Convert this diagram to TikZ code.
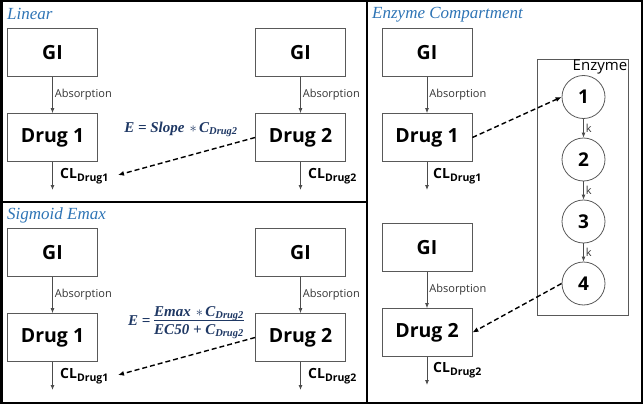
\documentclass[tikz,border=0pt]{standalone}
\usepackage{fontspec}
\setmainfont{Open Sans}
\newfontfamily\titlefont{Liberation Serif}
\newfontfamily\eqfont{Liberation Serif}
\usetikzlibrary{arrows.meta}
\definecolor{titleblue}{HTML}{2E74B5}
\definecolor{eqblue}{HTML}{1F3864}
\begin{document}
\begin{tikzpicture}[x=1pt,y=-1pt,
  box/.style={draw=black!65, line width=0.8pt, minimum width=90pt, minimum height=48pt, inner sep=0pt, font=\bfseries\fontsize{19.5}{21}\selectfont},
  circ/.style={circle, draw=black!65, line width=0.8pt, minimum size=43pt, inner sep=0pt, font=\bfseries\fontsize{19}{21}\selectfont},
  arr/.style={draw=black!70, line width=0.8pt, -{Latex[length=5pt,width=4pt]}},
  dasharr/.style={draw=black, line width=1.4pt, dashed, dash pattern=on 5pt off 3pt, -{Latex[length=6pt,width=5pt]}},
  lab/.style={font=\fontsize{11}{13}\selectfont, text=black!80, inner sep=2pt},
  klab/.style={font=\fontsize{11}{13}\selectfont, text=black!80, inner sep=2pt},
  cl/.style={font=\bfseries\fontsize{14}{16}\selectfont, anchor=west, inner sep=0pt},
  ttl/.style={font=\titlefont\itshape\fontsize{17}{19}\selectfont, text=titleblue, anchor=west, inner sep=0pt},
  eq/.style={font=\eqfont\bfseries\itshape\fontsize{15}{17}\selectfont, text=eqblue, inner sep=0pt},
  frame/.style={draw=black, line width=2.5pt}
]
\useasboundingbox (0,0) rectangle (643,404);
% frames
\draw[frame] (1.25,1.25) rectangle (641.75,402.75);
\draw[frame] (367,0) -- (367,404);
\draw[frame] (0,202) -- (367,202);

% ---------- Linear ----------
\node[ttl] (t1) at (7,14) {Linear};
\node[box] (lg1) at (52.5,52.5) {GI};
\node[box] (ld1) at (52.5,137.5) {Drug 1};
\node[box] (lg2) at (300.5,52.5) {GI};
\node[box] (ld2) at (300.5,137.5) {Drug 2};
\draw[arr] (lg1) -- (ld1) node[midway, right, lab] {Absorption};
\draw[arr] (lg2) -- (ld2) node[midway, right, lab] {Absorption};
\coordinate (lc1) at (52.5,190);
\coordinate (lc2) at (300.5,190);
\draw[arr] (ld1) -- (lc1);
\draw[arr] (ld2) -- (lc2);
\node[cl] (lcl1) at (60,176) {CL\textsubscript{\fontsize{10.5}{12}\selectfont Drug1}};
\node[cl] (lcl2) at (308,176) {CL\textsubscript{\fontsize{10.5}{12}\selectfont Drug2}};
\coordinate (le) at (118,175);
\draw[dasharr] (ld2.west) -- (le);
\node[eq] (leq) at (181,129) {E = Slope\,\,$\ast$\,C\textsubscript{\fontsize{10.5}{12}\selectfont Drug2}};

% ---------- Sigmoid Emax ----------
\node[ttl] (t2) at (7,215) {Sigmoid Emax};
\node[box] (sg1) at (52.5,252.5) {GI};
\node[box] (sd1) at (52.5,337.5) {Drug 1};
\node[box] (sg2) at (300.5,252.5) {GI};
\node[box] (sd2) at (300.5,337.5) {Drug 2};
\draw[arr] (sg1) -- (sd1) node[midway, right, lab] {Absorption};
\draw[arr] (sg2) -- (sd2) node[midway, right, lab] {Absorption};
\coordinate (sc1) at (52.5,390);
\coordinate (sc2) at (300.5,390);
\draw[arr] (sd1) -- (sc1);
\draw[arr] (sd2) -- (sc2);
\node[cl] (scl1) at (60,376) {CL\textsubscript{\fontsize{10.5}{12}\selectfont Drug1}};
\node[cl] (scl2) at (308,376) {CL\textsubscript{\fontsize{10.5}{12}\selectfont Drug2}};
\coordinate (se) at (118,375);
\draw[dasharr] (sd2.west) -- (se);
\node[eq] (seq) at (186,322) {E =
  \begin{tabular}{@{}c@{}}
  Emax\,\,$\ast$\,C\textsubscript{\fontsize{10.5}{12}\selectfont Drug2}\\[-1pt]
  \hline
  \rule{0pt}{14pt}EC50 + C\textsubscript{\fontsize{10.5}{12}\selectfont Drug2}
  \end{tabular}};

% ---------- Enzyme Compartment ----------
\node[ttl] (t3) at (372,15) {Enzyme Compartment};
\node[box] (eg1) at (427,52.5) {GI};
\node[box] (ed1) at (427,137.5) {Drug 1};
\node[box] (eg2) at (427,247.5) {GI};
\node[box] (ed2) at (427,332.5) {Drug 2};
\draw[arr] (eg1) -- (ed1) node[midway, right, lab] {Absorption};
\draw[arr] (eg2) -- (ed2) node[midway, right, lab] {Absorption};
\coordinate (ec1) at (427,190);
\coordinate (ec2) at (427,385);
\draw[arr] (ed1) -- (ec1);
\draw[arr] (ed2) -- (ec2);
\node[cl] (ecl1) at (433,176) {CL\textsubscript{\fontsize{10.5}{12}\selectfont Drug1}};
\node[cl] (ecl2) at (433,370) {CL\textsubscript{\fontsize{10.5}{12}\selectfont Drug2}};

\node[draw=black!65, line width=0.8pt, minimum width=91pt, minimum height=256pt, inner sep=0pt] (enz) at (582.5,187) {};
\node[anchor=north east, inner sep=1pt, font=\fontsize{15}{17}\selectfont] (enzl) at (enz.north east) {Enzyme};
\node[circ] (c1) at (583.5,97) {1};
\node[circ] (c2) at (583.5,159.5) {2};
\node[circ] (c3) at (583.5,221.5) {3};
\node[circ] (c4) at (583.5,283.5) {4};
\draw[arr] (c1) -- (c2) node[midway, right, klab] {k};
\draw[arr] (c2) -- (c3) node[midway, right, klab] {k};
\draw[arr] (c3) -- (c4) node[midway, right, klab] {k};
\draw[dasharr] (ed1.east) -- (c1.west);
\draw[dasharr] (c4.west) -- (ed2.east);
\end{tikzpicture}
\end{document}
